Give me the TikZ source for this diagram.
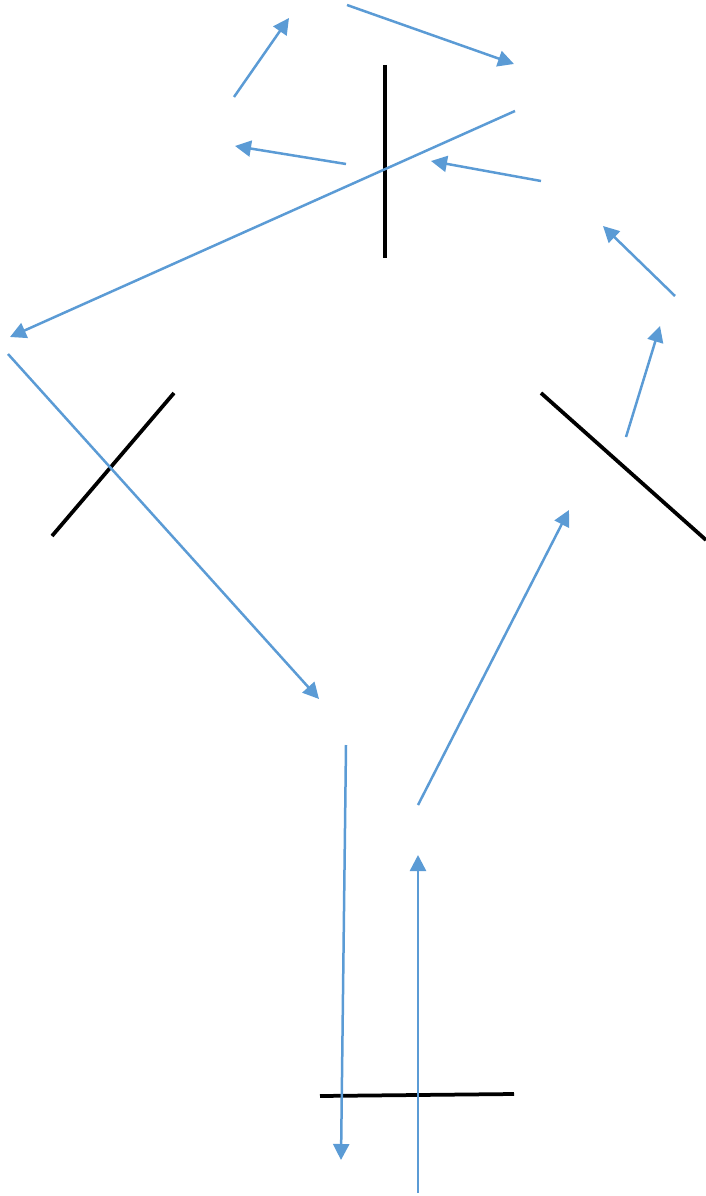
\documentclass[tikz,border=0pt]{standalone}
\usepackage{tikz}
\usetikzlibrary{arrows.meta}
\definecolor{raycol}{RGB}{91,155,213}

\begin{document}
\begin{tikzpicture}[x=0.02cm,y=-0.02cm,
  mirror/.style={line width=0.075cm,black},
  ray/.style={line width=0.05cm,raycol,-{Triangle[length=0.32cm,width=0.32cm]}}]
  \useasboundingbox (0,0) rectangle (706,1196);
  % mirrors
  \draw[mirror] (385,65) -- (385,258);
  \draw[mirror] (174,393) -- (52,536);
  \draw[mirror] (541,393) -- (706,540);
  \draw[mirror] (320,1096) -- (514,1094);
  % rays
  \draw[ray] (234,97) -- (289,18);
  \draw[ray] (347,5) -- (514,64);
  \draw[ray] (515,111) -- (10,337);
  \draw[ray] (346,164) -- (235,146);
  \draw[ray] (541,181) -- (431,161);
  \draw[ray] (675,296) -- (603,226);
  \draw[ray] (626,437) -- (660,326);
  \draw[ray] (8,354) -- (319,699);
  \draw[ray] (346,745) -- (341,1160);
  \draw[ray] (418,805) -- (569,510);
  \draw[ray] (418,1193) -- (418,855);
\end{tikzpicture}
\end{document}
